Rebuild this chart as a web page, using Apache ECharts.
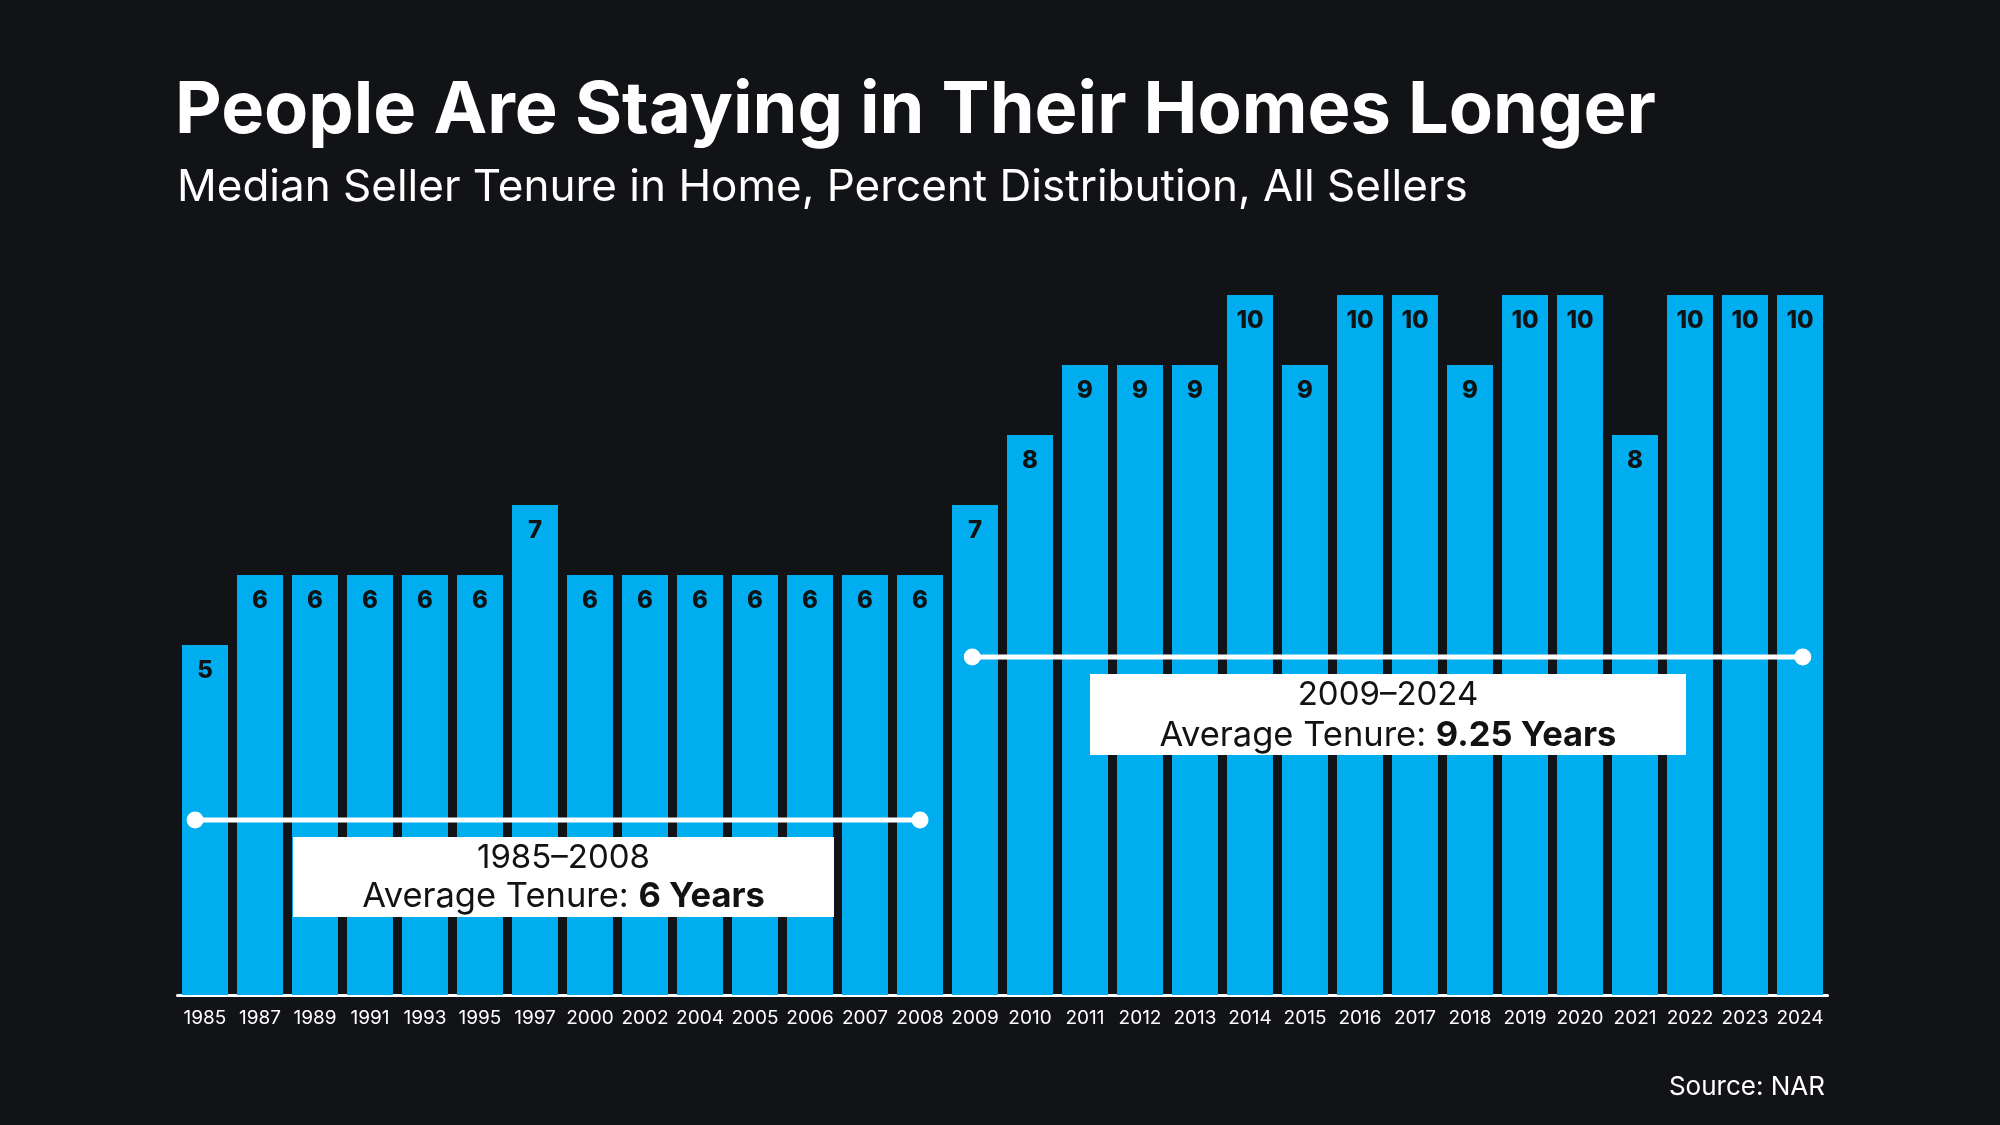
<!DOCTYPE html>
<html>
<head>
<meta charset="utf-8">
<script src="https://cdn.jsdelivr.net/npm/echarts@6/dist/echarts.min.js"></script>
<style>
html,body{margin:0;padding:0;background:#121316;}
#chart{width:2000px;height:1125px;}
</style>
</head>
<body>
<div id="chart"></div>
<script>
const years = ['1985','1987','1989','1991','1993','1995','1997','2000','2002','2004','2005','2006','2007','2008','2009','2010','2011','2012','2013','2014','2015','2016','2017','2018','2019','2020','2021','2022','2023','2024'];
const tenure = [5,6,6,6,6,6,7,6,6,6,6,6,6,6,7,8,9,9,9,10,9,10,10,9,10,10,8,10,10,10];
const periodLabel = ['1985–2008','2009–2024'];
const periodAverage = ['6 Years','9.25 Years'];
// bracket lines: [x index position, level]
const bracket1 = [[-0.18, 2.5], [13, 2.5]];
const bracket2 = [[13.95, 4.83], [29.05, 4.83]];

const titleText = 'People Are Staying in Their Homes Longer';
const subtitleText = 'Median Seller Tenure in Home, Percent Distribution, All Sellers';
const sourceText = 'Source: NAR';

const FONT = 'Inter, "Noto Sans", sans-serif';
const ctx = document.createElement('canvas').getContext('2d');
function fit(text, weight, target) {
  ctx.font = weight + ' 100px ' + FONT;
  return 100 * target / ctx.measureText(text).width;
}
const titleSize = Math.min(77, fit(titleText, 700, 1481));
const subSize = Math.min(44, fit(subtitleText, 400, 1294));

const chart = echarts.init(document.getElementById('chart'), null, {renderer:'canvas'});

function bracketSeries(d) {
  return {
    type: 'line', xAxisIndex: 1, data: d, silent: true, z: 5,
    symbol: 'circle', symbolSize: 17, showSymbol: true,
    itemStyle: {color: '#ffffff'},
    lineStyle: {color: '#ffffff', width: 5},
    label: {show: false}
  };
}

const option = {
  backgroundColor: '#121316',
  animation: false,
  title: [
    {text: titleText, left: 175, top: 111 - titleSize/2, padding: 0,
     textStyle: {color:'#ffffff', fontFamily: FONT, fontWeight: 700, fontSize: titleSize}},
    {text: subtitleText, left: 177, top: 188 - subSize/2, padding: 0,
     textStyle: {color:'#ffffff', fontFamily: FONT, fontWeight: 400, fontSize: subSize}},
    {text: sourceText, right: 175, top: 1087 - 13, padding: 0,
     textStyle: {color:'#ffffff', fontFamily: FONT, fontWeight: 400, fontSize: 26}}
  ],
  grid: {left: 177.5, right: 172.5, top: 295, bottom: 130},
  xAxis: [{
    type: 'category', data: years,
    axisLine: {show: true, lineStyle: {color:'#ffffff', width: 3}},
    axisTick: {show: false},
    axisLabel: {color:'#ffffff', fontFamily: FONT, fontSize: 19, margin: 14, interval: 0}
  }, {
    type: 'value', min: -0.5, max: 29.5, show: false, splitLine: {show: false}
  }],
  yAxis: {type:'value', min: 0, max: 10, show: false, splitLine:{show:false}},
  series: [{
    type: 'bar', data: tenure, barCategoryGap: '16.4%',
    itemStyle: {color: '#00AEEF'},
    label: {show: true, position: 'insideTop', distance: 14, color: '#111214',
            fontFamily: FONT, fontWeight: 800, fontSize: 24}
  }, bracketSeries(bracket1), bracketSeries(bracket2)]
};
chart.setOption(option);

// annotation boxes (layout)
const boxes = [
  {x: 293, y: 837, w: 541, h: 80, l1: 858, l2: 897},
  {x: 1090, y: 674, w: 596, h: 81, l1: 695, l2: 736}
];
const graphics = [];
boxes.forEach((b, i) => {
  graphics.push({type:'rect', z: 100, shape:{x:b.x, y:b.y, width:b.w, height:b.h}, style:{fill:'#ffffff'}});
  graphics.push({type:'text', z: 101, style:{
    x: b.x + b.w/2, y: b.l1, text: periodLabel[i], align:'center', verticalAlign:'middle',
    fill:'#111214', font: '400 33px ' + FONT}});
  graphics.push({type:'text', z: 101, style:{
    x: b.x + b.w/2, y: b.l2, align:'center', verticalAlign:'middle',
    text: '{n|Average Tenure: }{b|' + periodAverage[i] + '}',
    rich: {
      n: {fill:'#111214', fontFamily: FONT, fontWeight: 400, fontSize: 34.5},
      b: {fill:'#111214', fontFamily: FONT, fontWeight: 700, fontSize: 34.5}
    }}});
});
chart.setOption({graphic: graphics});
</script>
</body>
</html>
